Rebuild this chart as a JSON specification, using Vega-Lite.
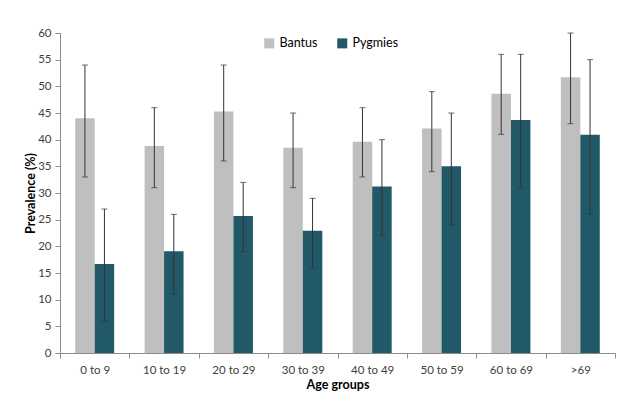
{
  "$schema": "https://vega.github.io/schema/vega-lite/v6.json",
  "autosize": {"type": "none"},
  "width": 555,
  "height": 320,
  "padding": {"left": 60, "top": 33, "right": 15, "bottom": 47},
  "background": "white",
  "config": {
    "view": {"stroke": null},
    "font": "Lato",
    "axis": {"grid": false, "labelColor": "#404040", "labelFontSize": 11.5, "domainColor": "#8c8c8c", "tickColor": "#8c8c8c", "titleFontWeight": "bold", "titleFontSize": 12.5, "titleColor": "#000000", "labelOverlap": false}
  },
  "data": {
    "values": [
      {"age": "0 to 9", "group": "Bantus", "prev": 44.0, "lo": 33, "hi": 54},
      {"age": "10 to 19", "group": "Bantus", "prev": 38.8, "lo": 31, "hi": 46},
      {"age": "20 to 29", "group": "Bantus", "prev": 45.3, "lo": 36, "hi": 54},
      {"age": "30 to 39", "group": "Bantus", "prev": 38.5, "lo": 31, "hi": 45},
      {"age": "40 to 49", "group": "Bantus", "prev": 39.6, "lo": 33, "hi": 46},
      {"age": "50 to 59", "group": "Bantus", "prev": 42.1, "lo": 34, "hi": 49},
      {"age": "60 to 69", "group": "Bantus", "prev": 48.6, "lo": 41, "hi": 56},
      {"age": ">69", "group": "Bantus", "prev": 51.7, "lo": 43, "hi": 60},
      {"age": "0 to 9", "group": "Pygmies", "prev": 16.7, "lo": 6, "hi": 27},
      {"age": "10 to 19", "group": "Pygmies", "prev": 19.1, "lo": 11, "hi": 26},
      {"age": "20 to 29", "group": "Pygmies", "prev": 25.7, "lo": 19, "hi": 32},
      {"age": "30 to 39", "group": "Pygmies", "prev": 22.9, "lo": 16, "hi": 29},
      {"age": "40 to 49", "group": "Pygmies", "prev": 31.2, "lo": 22, "hi": 40},
      {"age": "50 to 59", "group": "Pygmies", "prev": 35.0, "lo": 24, "hi": 45},
      {"age": "60 to 69", "group": "Pygmies", "prev": 43.7, "lo": 31, "hi": 56},
      {"age": ">69", "group": "Pygmies", "prev": 40.9, "lo": 26, "hi": 55}
    ]
  },
  "encoding": {
    "x": {
      "field": "age", "type": "nominal", "sort": null,
      "scale": {"paddingInner": 0, "paddingOuter": 0},
      "axis": {"title": "Age groups", "labelAngle": 0, "tickBand": "extent", "labelPadding": 6, "titlePadding": 3, "tickSize": 5}
    },
    "xOffset": {"field": "group", "type": "nominal", "scale": {"paddingInner": 0, "paddingOuter": 0.78}}
  },
  "layer": [
    {
      "mark": {"type": "bar"},
      "encoding": {
        "y": {"field": "prev", "type": "quantitative", "scale": {"domain": [0, 60]},
          "axis": {"title": "Prevalence (%)", "values": [0,5,10,15,20,25,30,35,40,45,50,55,60], "tickSize": 5, "labelPadding": 4, "titlePadding": 0}},
        "color": {"field": "group", "type": "nominal",
          "scale": {"domain": ["Bantus", "Pygmies"], "range": ["#bfbfbf", "#215968"]},
          "legend": {"title": null, "orient": "none", "legendX": 203, "legendY": 4, "direction": "horizontal", "symbolType": "square", "symbolSize": 100, "symbolStrokeWidth": 0, "labelFontSize": 12.5, "labelColor": "#000000", "columnPadding": 18, "symbolOffset": 0}}
      }
    },
    {
      "mark": {"type": "rule", "color": "#333333", "strokeWidth": 1},
      "encoding": {"y": {"field": "lo", "type": "quantitative", "axis": {"title": "Prevalence (%)", "values": [0,5,10,15,20,25,30,35,40,45,50,55,60], "tickSize": 5, "labelPadding": 4, "titlePadding": 0}}, "y2": {"field": "hi"}}
    },
    {
      "mark": {"type": "tick", "color": "#333333", "thickness": 1, "size": 6, "orient": "horizontal"},
      "encoding": {"y": {"field": "lo", "type": "quantitative", "axis": {"title": "Prevalence (%)", "values": [0,5,10,15,20,25,30,35,40,45,50,55,60], "tickSize": 5, "labelPadding": 4, "titlePadding": 0}}}
    },
    {
      "mark": {"type": "tick", "color": "#333333", "thickness": 1, "size": 6, "orient": "horizontal"},
      "encoding": {"y": {"field": "hi", "type": "quantitative", "axis": {"title": "Prevalence (%)", "values": [0,5,10,15,20,25,30,35,40,45,50,55,60], "tickSize": 5, "labelPadding": 4, "titlePadding": 0}}}
    }
  ]
}
